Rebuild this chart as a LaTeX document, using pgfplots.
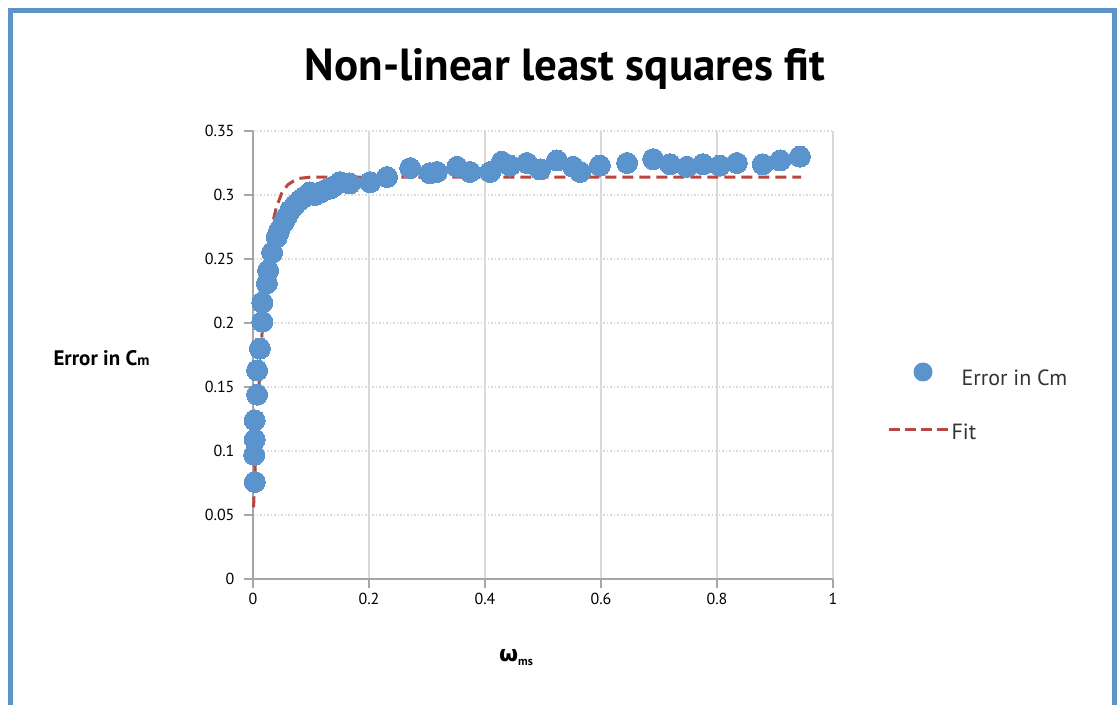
\documentclass[border=0pt]{standalone}
\usepackage{pgfplots}
\pgfplotsset{compat=1.18}
\usepackage{fontspec}
\setmainfont{PT Sans}
\newfontfamily\greekfont{DejaVu Sans}
\definecolor{dotblue}{HTML}{5B93CC}
\definecolor{fitred}{HTML}{BA4640}
\definecolor{frameblue}{HTML}{5E93C8}
\definecolor{gridgray}{HTML}{D9D9D9}
\definecolor{axisgray}{HTML}{A6A6A6}
\begin{document}
\begin{tikzpicture}[x=1pt,y=1pt]
\path[fill=white] (0,0) rectangle (1119,700);
\draw[frameblue, line width=5pt] (10.5,-5) -- (10.5,689.5) -- (1114.5,689.5) -- (1114.5,-5);
\begin{axis}[
  at={(253pt,121pt)}, anchor=south west,
  scale only axis, width=580pt, height=448pt,
  xmin=0, xmax=1, ymin=0, ymax=0.35,
  xtick={0,0.2,0.4,0.6,0.8,1},
  ytick={0,0.05,0.1,0.15,0.2,0.25,0.3,0.35},
  axis lines*=left,
  axis line style={axisgray, line width=2pt, -},
  xmajorgrids, ymajorgrids,
  x grid style={gridgray, line width=2.5pt},
  y grid style={gridgray, line width=2pt, dash pattern=on 1.5pt off 2pt},
  major tick length=9pt,
  tick align=outside,
  tick style={axisgray, line width=2.5pt},
  xticklabel style={font=\fontsize{16}{19}\selectfont, yshift=-2pt},
  yticklabel style={font=\fontsize{16}{19}\selectfont, xshift=-6pt},
  /pgf/number format/assume math mode=true,
  yticklabel={\pgfmathprintnumber[fixed,precision=2]{\tick}},
  xticklabel={\pgfmathprintnumber[fixed,precision=1]{\tick}},
  clip=false,
]
\addplot[fitred, line width=3pt, dash pattern=on 11pt off 6pt, forget plot] coordinates {
(0.001,0.056) (0.004,0.09) (0.008,0.13) (0.012,0.165) (0.016,0.195)
(0.02,0.22) (0.025,0.245) (0.03,0.265) (0.035,0.28) (0.04,0.29)
(0.05,0.302) (0.06,0.308) (0.07,0.311) (0.08,0.313) (0.1,0.314)
(0.2,0.314) (0.4,0.314) (0.6,0.314) (0.8,0.314) (0.945,0.314)
};
\addplot[dotblue, only marks, mark=*, mark size=10.5pt, mark options={solid, fill=dotblue, draw=dotblue, line width=0pt}, forget plot] coordinates {
(0.003,0.0758) (0.002,0.097) (0.003,0.109) (0.003,0.124) (0.007,0.144)
(0.007,0.163) (0.012,0.180) (0.016,0.201) (0.016,0.216) (0.024,0.231)
(0.026,0.241) (0.033,0.255) (0.041,0.267) (0.045,0.272) (0.052,0.278)
(0.058,0.283) (0.064,0.288) (0.072,0.292) (0.081,0.296) (0.090,0.299)
(0.098,0.302) (0.107,0.300) (0.116,0.302) (0.125,0.304) (0.133,0.305)
(0.140,0.307) (0.150,0.310) (0.167,0.309) (0.202,0.310) (0.231,0.314)
(0.271,0.321) (0.305,0.317) (0.317,0.318) (0.352,0.322) (0.374,0.318)
(0.409,0.318) (0.429,0.326) (0.443,0.323) (0.472,0.325) (0.495,0.320)
(0.524,0.327) (0.552,0.322) (0.564,0.318) (0.598,0.323) (0.645,0.325)
(0.690,0.328) (0.719,0.324) (0.748,0.322) (0.776,0.324) (0.805,0.323)
(0.834,0.325) (0.879,0.324) (0.909,0.327) (0.943,0.330)
};
\end{axis}
% legend
\fill[dotblue] (923,328) circle (9.5pt);
\node[anchor=west, font=\fontsize{22}{26}\selectfont, text=black!80] at (958,322) {Error in Cm};
\draw[fitred, line width=3pt, dash pattern=on 11pt off 5pt] (889,270) -- (951,270);
\node[anchor=west, font=\fontsize{22}{26}\selectfont, text=black!80] at (948,268) {Fit};
% title and labels
\node[font=\bfseries\fontsize{45}{52}\selectfont] at (565,631) {Non-linear least squares fit};
\node[font=\bfseries\fontsize{21}{25}\selectfont, anchor=west] at (50,342) {Error in C{\fontsize{15}{18}\selectfont m}};
\node[font=\bfseries\fontsize{22}{26}\selectfont] at (516,42) {{\greekfont ω}\raisebox{-4pt}{\fontsize{12}{14}\selectfont ms}};
\end{tikzpicture}
\end{document}
